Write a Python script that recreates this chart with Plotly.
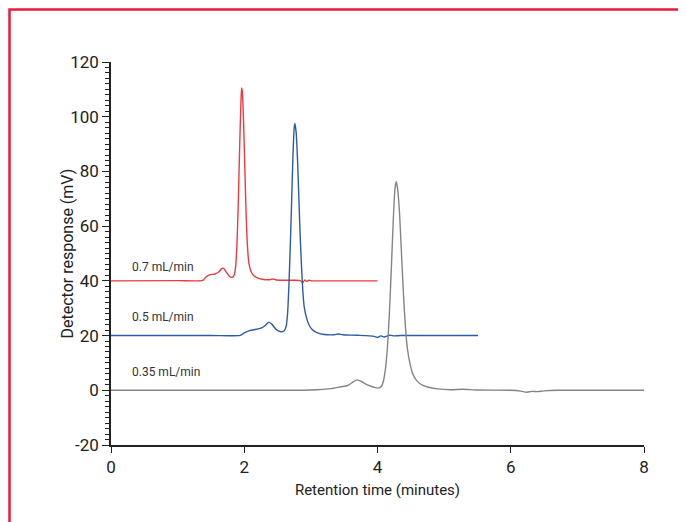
import plotly.graph_objects as go

# ---- data ----
red_x = [0.0, 1.00, 1.38, 1.42, 1.48, 1.56, 1.62, 1.66, 1.69, 1.73, 1.78, 1.82, 1.85, 1.87, 1.89, 1.91,
         1.93, 1.95, 1.96, 1.97, 1.99, 2.01, 2.03, 2.05, 2.07, 2.10, 2.14, 2.19, 2.27, 2.38, 2.43,
         2.48, 2.70, 2.84, 2.88, 2.91, 2.94, 2.97, 3.02, 3.20, 4.0]
red_y = [40.0, 40.1, 40.2, 41.3, 42.2, 42.5, 43.3, 44.5, 44.6, 43.2, 41.6, 41.3, 42.2, 45.0, 53.0, 68.0,
         88.0, 105.0, 110.5, 109.5, 98.0, 80.0, 63.0, 52.0, 46.5, 43.5, 42.0, 41.2, 40.6, 40.4, 40.7,
         40.3, 40.2, 40.1, 39.4, 40.3, 39.8, 40.2, 40.0, 40.0, 40.0]

blue_x = [0.0, 1.50, 1.94, 2.00, 2.08, 2.18, 2.26, 2.32, 2.37, 2.42, 2.48, 2.55, 2.60, 2.63, 2.65, 2.67,
          2.69, 2.71, 2.73, 2.75, 2.76, 2.78, 2.80, 2.82, 2.84, 2.86, 2.88, 2.90, 2.94, 2.98, 3.03,
          3.10, 3.20, 3.35, 3.41, 3.48, 3.70, 3.95, 4.00, 4.05, 4.10, 4.18, 4.25, 4.35, 5.51]
blue_y = [20.0, 20.0, 20.1, 21.0, 21.8, 22.3, 22.8, 23.8, 24.9, 24.0, 22.2, 21.4, 21.8, 23.5, 28.0, 38.0,
          52.0, 68.0, 85.0, 96.0, 97.5, 94.0, 84.0, 70.0, 56.0, 45.0, 36.0, 30.5, 26.0, 23.5, 22.0,
          21.0, 20.4, 20.3, 20.6, 20.3, 20.1, 19.7, 19.3, 19.9, 19.5, 20.1, 19.9, 20.0, 20.0]

gray_x = [0.0, 2.90, 3.10, 3.30, 3.45, 3.55, 3.63, 3.69, 3.75, 3.85, 3.95, 4.01, 4.06, 4.09, 4.12,
          4.15, 4.18, 4.21, 4.24, 4.26, 4.28, 4.30, 4.33, 4.36, 4.39, 4.42, 4.45, 4.49, 4.53, 4.58,
          4.65, 4.75, 4.90, 5.10, 5.28, 5.50, 6.00, 6.15, 6.24, 6.32, 6.40, 6.50, 6.70, 8.0]
gray_y = [0.0, 0.0, 0.2, 0.6, 1.3, 1.7, 3.0, 3.8, 3.3, 2.0, 1.1, 0.8, 1.5, 3.5, 8.0,
          16.0, 29.0, 46.0, 64.0, 73.0, 76.2, 74.0, 65.0, 50.0, 35.0, 23.0, 15.0, 9.5, 6.0, 3.8,
          2.2, 1.2, 0.5, 0.2, 0.4, 0.1, 0.0, -0.3, -0.7, -0.4, -0.5, -0.2, 0.0, 0.0]

series_names = ["0.7 mL/min", "0.5 mL/min", "0.35 mL/min"]
label_x = [0.28, 0.28, 0.28]
label_y = [45.0, 26.8, 6.7]

x_ticks = [0, 2, 4, 6, 8]
x_tick_text = ["0", "2", "4", "6", "8"]
y_ticks = [-20, 0, 20, 40, 60, 80, 100, 120]
y_tick_text = ["-20", "0", "20", "40", "60", "80", "100", "120"]

colors = ["#ee3b3f", "#2c5ca8", "#858585"]
FONT = "Roboto, Liberation Sans, sans-serif"

# page body has an 8px margin, so layout is offset accordingly
L, T, R, B = 103, 54, 50, 85
PW, PH = 686 - L - R, 522 - T - B

fig = go.Figure()
for xs, ys, c, n in [(red_x, red_y, colors[0], series_names[0]),
                     (blue_x, blue_y, colors[1], series_names[1]),
                     (gray_x, gray_y, colors[2], series_names[2])]:
    fig.add_trace(go.Scatter(x=xs, y=ys, mode="lines", name=n,
                             line=dict(color=c, width=1.4, shape="spline", smoothing=0.6),
                             showlegend=False, hoverinfo="skip"))

for n, lx, ly in zip(series_names, label_x, label_y):
    fig.add_annotation(x=lx, y=ly, text=n, showarrow=False, xanchor="left", yanchor="middle",
                       font=dict(family=FONT, size=12, color="#333333"))

# y-axis title placed close to the tick labels, as in the reference
fig.add_annotation(xref="paper", yref="paper", x=(59 - L) / PW, y=0.5,
                   text="Detector response (mV)", textangle=-90, showarrow=False,
                   xanchor="center", yanchor="middle",
                   font=dict(family=FONT, size=16, color="#222222"))

# red frame (cropped box: left and top edges visible)
fx0, fy0 = 1.5, 1.5
fig.add_shape(type="rect", xref="paper", yref="paper",
              x0=(fx0 - L) / PW, x1=(720 - L) / PW,
              y0=(T + PH - 560) / PH, y1=(T + PH - fy0) / PH,
              line=dict(color="#e8193c", width=2.5), fillcolor="rgba(0,0,0,0)", layer="below")

fig.update_layout(
    width=686, height=522,
    margin=dict(l=L, r=R, t=T, b=B),
    paper_bgcolor="white", plot_bgcolor="white",
    font=dict(family=FONT, color="#222222"),
)
fig.update_xaxes(range=[0, 8], tickvals=x_ticks, ticktext=x_tick_text, ticks="outside", ticklen=6,
                 tickwidth=1.3, tickcolor="#222", showline=True, linecolor="#222", linewidth=1.5,
                 showgrid=False, zeroline=False, tickfont=dict(size=17, family=FONT, color="#222"),
                 title=dict(text="Retention time (minutes)", font=dict(size=15, family=FONT, color="#222"),
                            standoff=8))
fig.update_yaxes(range=[-20, 120], tickvals=y_ticks, ticktext=y_tick_text, ticks="outside", ticklen=7,
                 tickwidth=1.3, tickcolor="#222", showline=True, linecolor="#222", linewidth=1.5,
                 showgrid=False, zeroline=False, tickfont=dict(size=17, family=FONT, color="#222"),
                 minor=dict(dtick=2, ticks="outside", ticklen=4, tickwidth=1, tickcolor="#222", showgrid=False))

fig.write_html("out.html")
